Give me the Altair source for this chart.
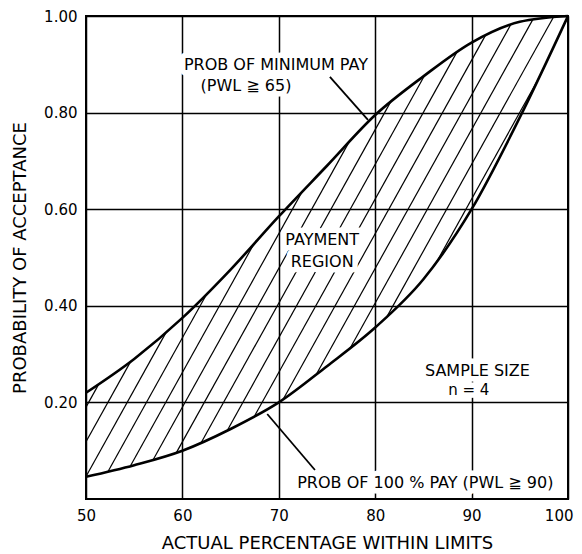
import altair as alt
import numpy as np
import pandas as pd

# ---- data ----
pct = [50, 55, 60, 65, 70, 75, 80, 85, 90, 95, 100]
p_min_pay = [0.22, 0.29, 0.375, 0.475, 0.585, 0.69, 0.795, 0.875, 0.945, 0.988, 1.0]   # PWL >= 65
p_full_pay = [0.046, 0.07, 0.10, 0.145, 0.20, 0.275, 0.355, 0.455, 0.60, 0.79, 1.0]  # PWL >= 90

x_ticks = [50, 60, 70, 80, 90, 100]
y_ticks = [0.2, 0.4, 0.6, 0.8, 1.0]

# hatching of the payment region (slope in probability per percent, spacing in percent)
hatch_slope = 0.0359
hatch_step = 2.0
hatch_start = 42.7

ann_text = ["PROB OF MINIMUM PAY", "(PWL ≧ 65)", "PAYMENT", "REGION",
            "SAMPLE SIZE", "n = 4", "PROB OF 100 % PAY (PWL ≧ 90)"]
ann_x = [69.7, 66.6, 74.5, 74.5, 90.6, 89.7, 85.2]
ann_y = [0.899, 0.855, 0.536, 0.49, 0.265, 0.2265, 0.033]
ann_size = [16, 16, 16, 16, 16, 15, 16]

leader_x = [75.3, 68.8]
leader_y = [0.874, 0.176]
leader_x2 = [79.25, 73.75]
leader_y2 = [0.785, 0.06]


# monotone cubic (same as d3 curveMonotoneX) to clip the hatching to the curves
def monotone(xp, yp):
    xp = np.asarray(xp, float)
    yp = np.asarray(yp, float)
    n = len(xp)
    h = np.diff(xp)
    s = np.diff(yp) / h
    t = np.zeros(n)
    sg = lambda v: -1.0 if v < 0 else 1.0
    for i in range(1, n - 1):
        h0, h1, s0, s1 = h[i - 1], h[i], s[i - 1], s[i]
        p = (s0 * h1 + s1 * h0) / (h0 + h1)
        t[i] = (sg(s0) + sg(s1)) * min(abs(s0), abs(s1), 0.5 * abs(p))
    t[0] = (3 * s[0] - t[1]) / 2
    t[-1] = (3 * s[-1] - t[-2]) / 2

    def f(x):
        x = np.asarray(x, float)
        i = np.clip(np.searchsorted(xp, x, side="right") - 1, 0, n - 2)
        hh = h[i]
        u = (x - xp[i]) / hh
        h00 = 2 * u**3 - 3 * u**2 + 1
        h10 = u**3 - 2 * u**2 + u
        h01 = -2 * u**3 + 3 * u**2
        h11 = u**3 - u**2
        return h00 * yp[i] + h10 * hh * t[i] + h01 * yp[i + 1] + h11 * hh * t[i + 1]

    return f


lo = monotone(pct, p_full_pay)
up = monotone(pct, p_min_pay)
xs = np.linspace(50, 100, 5001)
lo_v, up_v = lo(xs), up(xs)
hatch_rows = []
x0 = hatch_start
while x0 < 100:
    ys = hatch_slope * (xs - x0)
    inside = (ys >= lo_v - 1e-9) & (ys <= up_v + 1e-9)
    idx = np.flatnonzero(inside)
    if len(idx) > 1:
        breaks = np.flatnonzero(np.diff(idx) > 1)
        starts = np.r_[idx[0], idx[breaks + 1]]
        ends = np.r_[idx[breaks], idx[-1]]
        for a, b in zip(starts, ends):
            if b > a:
                hatch_rows.append({"x": xs[a], "y": ys[a], "x2": xs[b], "y2": ys[b]})
    x0 += hatch_step
hatch_df = pd.DataFrame(hatch_rows)

curves_df = pd.DataFrame({
    "pct": pct * 2,
    "prob": p_min_pay + p_full_pay,
    "series": ["min"] * len(pct) + ["full"] * len(pct),
})
ann_df = pd.DataFrame({"text": ann_text, "x": ann_x, "y": ann_y, "size": ann_size})
leader_df = pd.DataFrame({"x": leader_x, "y": leader_y, "x2": leader_x2, "y2": leader_y2})

FONT = "DejaVu Sans"
x_scale = alt.Scale(domain=[50, 100], nice=False, zero=False)
y_scale = alt.Scale(domain=[0, 1], nice=False)
x_axis = alt.Axis(
    values=x_ticks, format="d", title="ACTUAL PERCENTAGE WITHIN LIMITS",
    titlePadding=11, labelFlush=False,
    labelAlign={"condition": {"test": "datum.value == 100", "value": "right"}, "value": "center"},
    labelOffset={"condition": {"test": "datum.value == 100", "value": 5},
                 "value": 0},
)
y_axis = alt.Axis(values=y_ticks, format=".2f", title="PROBABILITY OF ACCEPTANCE", titlePadding=14)


def X(field):
    return alt.X(field, type="quantitative", scale=x_scale, axis=x_axis)


def Y(field):
    return alt.Y(field, type="quantitative", scale=y_scale, axis=y_axis)


hatch = alt.Chart(hatch_df).mark_rule(color="black", strokeWidth=1.2).encode(
    x=X("x"), y=Y("y"), x2="x2", y2="y2"
)
curves = alt.Chart(curves_df).mark_line(color="black", strokeWidth=2.6, interpolate="monotone").encode(
    x=X("pct"), y=Y("prob"), detail="series:N"
)
halo = alt.Chart(ann_df).mark_text(
    font=FONT, fill="white", stroke="white", strokeWidth=11, strokeJoin="round"
).encode(x=X("x"), y=Y("y"), text="text:N", size=alt.Size("size:Q", scale=None, legend=None))
labels = alt.Chart(ann_df).mark_text(font=FONT, color="black").encode(
    x=X("x"), y=Y("y"), text="text:N", size=alt.Size("size:Q", scale=None, legend=None)
)
leaders = alt.Chart(leader_df).mark_rule(color="black", strokeWidth=1.8).encode(
    x=X("x"), y=Y("y"), x2="x2", y2="y2"
)

chart = (
    alt.layer(hatch, curves, halo, labels, leaders)
    .properties(
        width=482,
        height=483,
        autosize=alt.AutoSizeParams(type="none"),
        padding={"left": 78, "top": 8, "right": 6, "bottom": 52},
        background="white",
    )
    .configure_axis(
        grid=True, gridColor="black", gridWidth=1.5, gridOpacity=1,
        domain=False, ticks=False,
        labelFont=FONT, labelFontSize=15, labelColor="black", labelPadding=9,
        titleFont=FONT, titleFontSize=18, titleFontWeight="normal", titleColor="black",
    )
    .configure_view(stroke="black", strokeWidth=2)
)

chart.save("out.html", embed_options={"renderer": "svg", "actions": False})
